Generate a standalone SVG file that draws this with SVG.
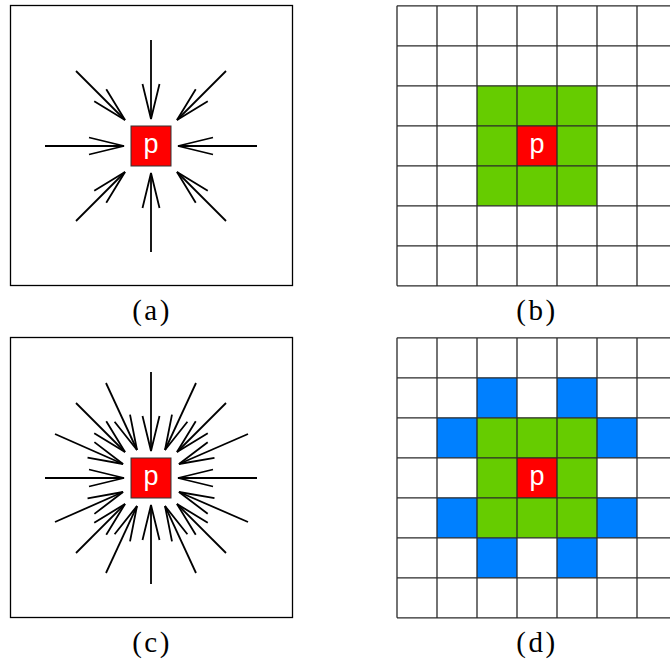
<svg xmlns="http://www.w3.org/2000/svg" width="670" height="668" viewBox="0 0 670 668">
<style>
.frame{fill:#fff;stroke:#000;stroke-width:1.3}
.arr{fill:none;stroke:#000;stroke-width:1.8;marker-end:url(#ah)}
.pbox{fill:#ff0000;stroke:#333;stroke-width:1}
.ptxt{fill:#fff;font-family:"Liberation Sans",Arial,sans-serif;font-size:27px;text-anchor:middle}
.cap{fill:#000;font-family:"Liberation Serif","Times New Roman",serif;font-size:29px;text-anchor:middle;letter-spacing:2.5px}
.grid{fill:none;stroke:#2a2a2a;stroke-width:1.3}
.g{fill:#66cc00}
.b{fill:#0080ff}
.r{fill:#ff0000}
</style>
<defs>
<marker id="ah" markerUnits="userSpaceOnUse" orient="auto" viewBox="-40 -12 44 24" refX="0" refY="0" markerWidth="44" markerHeight="24">
<path d="M-35,-8.5 L0,0 L-35,8.5" fill="none" stroke="#000" stroke-width="1.8"/>
</marker>
</defs>
<rect width="670" height="668" fill="#fff"/>

<g id="panel-a">
<rect class="frame" x="10.5" y="5.5" width="282" height="280"/>
<g id="node-a-p">
<rect class="pbox" x="131" y="126" width="40" height="40"/>
<text class="ptxt" x="151" y="153">p</text>
</g>
</g>
<g id="connectors-a">
<line class="arr" x1="151" y1="40" x2="151" y2="119"/>
<line class="arr" x1="151" y1="252" x2="151" y2="173"/>
<line class="arr" x1="45" y1="146" x2="124" y2="146"/>
<line class="arr" x1="257" y1="146" x2="178" y2="146"/>
<line class="arr" x1="76" y1="71" x2="125" y2="120"/>
<line class="arr" x1="226" y1="71" x2="177" y2="120"/>
<line class="arr" x1="76" y1="221" x2="125" y2="172"/>
<line class="arr" x1="226" y1="221" x2="177" y2="172"/>
</g>
<text id="cap-a" class="cap" x="152" y="320">(a)</text>

<g id="panel-c">
<rect class="frame" x="10.5" y="337.5" width="282" height="280"/>
<g id="node-c-p">
<rect class="pbox" x="131" y="458" width="40" height="40"/>
<text class="ptxt" x="151" y="485">p</text>
</g>
</g>
<g id="connectors-c">
<line class="arr" x1="151" y1="372" x2="151" y2="451"/>
<line class="arr" x1="151" y1="584" x2="151" y2="505"/>
<line class="arr" x1="45" y1="478" x2="124" y2="478"/>
<line class="arr" x1="257" y1="478" x2="178" y2="478"/>
<line class="arr" x1="76" y1="403" x2="125" y2="452"/>
<line class="arr" x1="226" y1="403" x2="177" y2="452"/>
<line class="arr" x1="76" y1="553" x2="125" y2="504"/>
<line class="arr" x1="226" y1="553" x2="177" y2="504"/>
<line class="arr" x1="106" y1="383" x2="137" y2="450"/>
<line class="arr" x1="196" y1="383" x2="165" y2="450"/>
<line class="arr" x1="106" y1="573" x2="137" y2="506"/>
<line class="arr" x1="196" y1="573" x2="165" y2="506"/>
<line class="arr" x1="55" y1="434" x2="123" y2="464"/>
<line class="arr" x1="55" y1="522" x2="123" y2="492"/>
<line class="arr" x1="248" y1="434" x2="179" y2="464"/>
<line class="arr" x1="248" y1="522" x2="179" y2="492"/>
</g>
<text id="cap-c" class="cap" x="152" y="652">(c)</text>

<g id="panel-b">
<rect x="397" y="5.8" width="280" height="280" fill="#fff"/>
<rect class="g" x="477" y="85.8" width="120" height="120"/>
<g id="node-b-p">
<rect class="r" x="517" y="125.8" width="40" height="40"/>
<text class="ptxt" x="537" y="153">p</text>
</g>
<path class="grid" d="M397,5.8V285.8M437,5.8V285.8M477,5.8V285.8M517,5.8V285.8M557,5.8V285.8M597,5.8V285.8M637,5.8V285.8M677,5.8V285.8M397,5.8H677M397,45.8H677M397,85.8H677M397,125.8H677M397,165.8H677M397,205.8H677M397,245.8H677M397,285.8H677"/>
</g>
<text id="cap-b" class="cap" x="537" y="320">(b)</text>

<g id="panel-d">
<rect x="397" y="337.8" width="280" height="280" fill="#fff"/>
<rect class="g" x="477" y="417.8" width="120" height="120"/>
<rect class="b" x="477" y="377.8" width="40" height="40"/>
<rect class="b" x="557" y="377.8" width="40" height="40"/>
<rect class="b" x="437" y="417.8" width="40" height="40"/>
<rect class="b" x="597" y="417.8" width="40" height="40"/>
<rect class="b" x="437" y="497.8" width="40" height="40"/>
<rect class="b" x="597" y="497.8" width="40" height="40"/>
<rect class="b" x="477" y="537.8" width="40" height="40"/>
<rect class="b" x="557" y="537.8" width="40" height="40"/>
<g id="node-d-p">
<rect class="r" x="517" y="457.8" width="40" height="40"/>
<text class="ptxt" x="537" y="485">p</text>
</g>
<path class="grid" d="M397,337.8V617.8M437,337.8V617.8M477,337.8V617.8M517,337.8V617.8M557,337.8V617.8M597,337.8V617.8M637,337.8V617.8M677,337.8V617.8M397,337.8H677M397,377.8H677M397,417.8H677M397,457.8H677M397,497.8H677M397,537.8H677M397,577.8H677M397,617.8H677"/>
</g>
<text id="cap-d" class="cap" x="537" y="652">(d)</text>
</svg>
